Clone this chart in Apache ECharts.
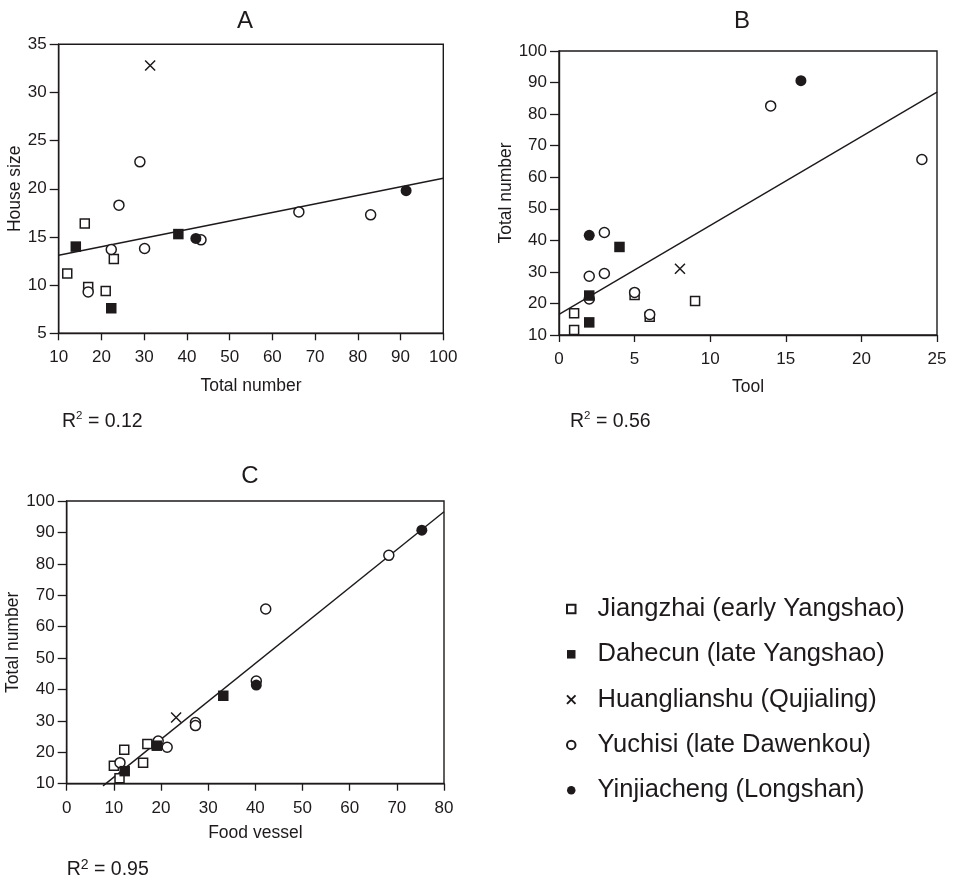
<!DOCTYPE html>
<html><head><meta charset="utf-8">
<script src="https://cdn.jsdelivr.net/npm/echarts@6/dist/echarts.min.js"></script>
<style>html,body{margin:0;padding:0;background:#fff}#c{width:956px;height:882px}</style>
</head><body><div id="c"></div>
<script>
// ---- data ----
const groups = ['Jiangzhai (early Yangshao)', 'Dahecun (late Yangshao)', 'Huanglianshu (Qujialing)', 'Yuchisi (late Dawenkou)', 'Yinjiacheng (Longshan)'];
const panelTitles = ['A', 'B', 'C'];
const xNames = ['Total number', 'Tool', 'Food vessel'];
const yNames = ['House size', 'Total number', 'Total number'];
const r2Values = ['0.12', '0.56', '0.95'];

// Panel A: x = total number, y = house size
const jiangA = [[12,11.2],[16.1,16.4],[16.9,9.8],[21,9.4],[22.9,12.7]];
const daheA  = [[14,14.0],[22.3,7.6],[38,15.3]];
const huangA = [[31.4,32.8]];
const yuchA  = [[29,22.8],[24.1,18.3],[22.3,13.7],[30.1,13.8],[43.3,14.7],[16.9,9.3],[66.2,17.6],[83,17.3]];
const yinA   = [[42.1,14.85],[91.3,19.8]];
const fitA   = [[10,13.1],[100,21.1]];

// Panel B: x = tool, y = total number
const jiangB = [[1,16.9],[1,11.6],[5,22.7],[6,15.8],[9,20.8]];
const daheB  = [[2,22.5],[2,14.0],[4,37.9]];
const huangB = [[8,31]];
const yuchB  = [[2,28.6],[3,42.5],[3,29.5],[5,23.5],[6,16.5],[14,82.6],[24,65.6],[2,21.4]];
const yinB   = [[2,41.6],[16,90.6]];
const fitB   = [[0,16.55],[25,87]];

// Panel C: x = food vessel, y = total number
const jiangC = [[10,15.7],[11.2,11.7],[12.2,20.8],[16.2,16.7],[17.1,22.6]];
const daheC  = [[12.3,14.0],[19.1,22.1],[33.2,38.0]];
const huangC = [[23.2,31.1]];
const yuchC  = [[11.3,16.7],[19.4,23.6],[21.3,21.6],[27.3,29.5],[27.3,28.5],[40.2,42.7],[42.2,65.6],[68.3,82.7]];
const yinC   = [[40.2,41.4],[75.3,90.7]];
const fitC   = [[7.7,9.3],[80,96.6]];

const xRanges = [[10,100,10],[0,25,5],[0,80,10]];
const yRanges = [[5,35,5],[10,100,10],[10,100,10]];

// ---- style ----
const ink = '#1e1a1b';
const FF = '"Liberation Sans", Arial, Helvetica, sans-serif';
const grids = [
  {left:58.7, top:44.3, width:384.6, height:289},
  {left:559, top:51, width:378, height:284},
  {left:66.7, top:501, width:377.3, height:282.7}
];
const xNameGap = [44, 43, 40];
const yNameGap = [34, 43, 44];
const groupStyle = {
  'Jiangzhai (early Yangshao)': {symbol:'rect', symbolSize:9, itemStyle:{color:'#fff', borderColor:ink, borderWidth:1.5, opacity:1}},
  'Dahecun (late Yangshao)': {symbol:'rect', symbolSize:10.5, itemStyle:{color:ink, borderWidth:0, opacity:1}},
  'Huanglianshu (Qujialing)': {symbol:'path://M0,0L10,10M10,0L0,10', symbolSize:10, itemStyle:{color:'rgba(0,0,0,0)', borderColor:ink, borderWidth:1.5, opacity:1}},
  'Yuchisi (late Dawenkou)': {symbol:'circle', symbolSize:10, itemStyle:{color:'#fff', borderColor:ink, borderWidth:1.5, opacity:1}},
  'Yinjiacheng (Longshan)': {symbol:'circle', symbolSize:11, itemStyle:{color:ink, borderWidth:0, opacity:1}}
};
const panelData = [
  {'Jiangzhai (early Yangshao)':jiangA,'Dahecun (late Yangshao)':daheA,'Huanglianshu (Qujialing)':huangA,'Yuchisi (late Dawenkou)':yuchA,'Yinjiacheng (Longshan)':yinA, fit:fitA},
  {'Jiangzhai (early Yangshao)':jiangB,'Dahecun (late Yangshao)':daheB,'Huanglianshu (Qujialing)':huangB,'Yuchisi (late Dawenkou)':yuchB,'Yinjiacheng (Longshan)':yinB, fit:fitB},
  {'Jiangzhai (early Yangshao)':jiangC,'Dahecun (late Yangshao)':daheC,'Huanglianshu (Qujialing)':huangC,'Yuchisi (late Dawenkou)':yuchC,'Yinjiacheng (Longshan)':yinC, fit:fitC}
];
const drawOrder = [groups[0], groups[3], groups[1], groups[2], groups[4]];

function axisCommon(){
  return {
    type:'value', nameLocation:'middle',
    nameTextStyle:{fontSize:17.5, color:ink, fontFamily:FF},
    axisLine:{show:true, onZero:false, lineStyle:{color:ink, width:1.4}},
    axisTick:{show:true, inside:false, lineStyle:{color:ink, width:1.3}},
    axisLabel:{fontSize:17, color:ink, fontFamily:FF, showMinLabel:true, showMaxLabel:true},
    splitLine:{show:false}
  };
}
const xAxis = [], yAxis = [], series = [];
for (let i = 0; i < 3; i++) {
  const xa = axisCommon();
  Object.assign(xa, {gridIndex:i, min:xRanges[i][0], max:xRanges[i][1], interval:xRanges[i][2], name:xNames[i], nameGap:xNameGap[i]});
  xa.axisTick.length = 7; xa.axisLabel.margin = 16;
  xAxis.push(xa);
  const ya = axisCommon();
  Object.assign(ya, {gridIndex:i, min:yRanges[i][0], max:yRanges[i][1], interval:yRanges[i][2], name:yNames[i], nameGap:yNameGap[i]});
  ya.axisTick.length = 9; ya.axisLabel.margin = 12;
  yAxis.push(ya);
  series.push({type:'line', xAxisIndex:i, yAxisIndex:i, data:panelData[i].fit, showSymbol:false, silent:true, clip:false,
    lineStyle:{color:ink, width:1.4}, z:1});
  drawOrder.forEach((g, k) => {
    const st = groupStyle[g];
    series.push({type:'scatter', name:g, xAxisIndex:i, yAxisIndex:i, data:panelData[i][g],
      symbol:st.symbol, symbolSize:st.symbolSize, itemStyle:st.itemStyle, z:2+k, silent:true});
  });
}

const r2Pos = [[62,421],[570,421],[66.7,869]];
const supSize = [11.5, 11.5, 14];
const graphic = r2Values.map((v, i) => ({
  type:'text', left:r2Pos[i][0], top:r2Pos[i][1]-11,
  style:{text:'{r|R}{s|2}{r| = ' + v + '}', fill:ink, font:'19.5px ' + FF,
    rich:{r:{fontSize:19.5, fontFamily:FF, fill:ink, lineHeight:22, verticalAlign:'bottom'},
          s:{fontSize:supSize[i], fontFamily:FF, fill:ink, lineHeight:22, verticalAlign:'top'}}}
}));

const titleX = [240, 737, 245];
const titleTop = [4, 4, 459];
const chart = echarts.init(document.getElementById('c'), null, {renderer:'canvas'});
chart.setOption({
  backgroundColor:'#fff',
  animation:false,
  title: panelTitles.map((t, i) => ({text:t, left:titleX[i], top:titleTop[i], textAlign:'center',
    textStyle:{fontSize:24, fontWeight:'normal', color:ink, fontFamily:FF}})),
  grid: grids.map(g => Object.assign({show:true, borderColor:ink, borderWidth:1.4, backgroundColor:'rgba(0,0,0,0)'}, g)),
  legend: {
    data: groups, orient:'vertical', left:561, top:591, itemWidth:8.5, itemHeight:8.5, itemGap:19.3,
    selectedMode:false,
    itemStyle:{opacity:1},
    textStyle:{fontSize:25.5, color:ink, fontFamily:FF, padding:[0,0,0,17]}
  },
  xAxis, yAxis, series, graphic
});
</script></body></html>
